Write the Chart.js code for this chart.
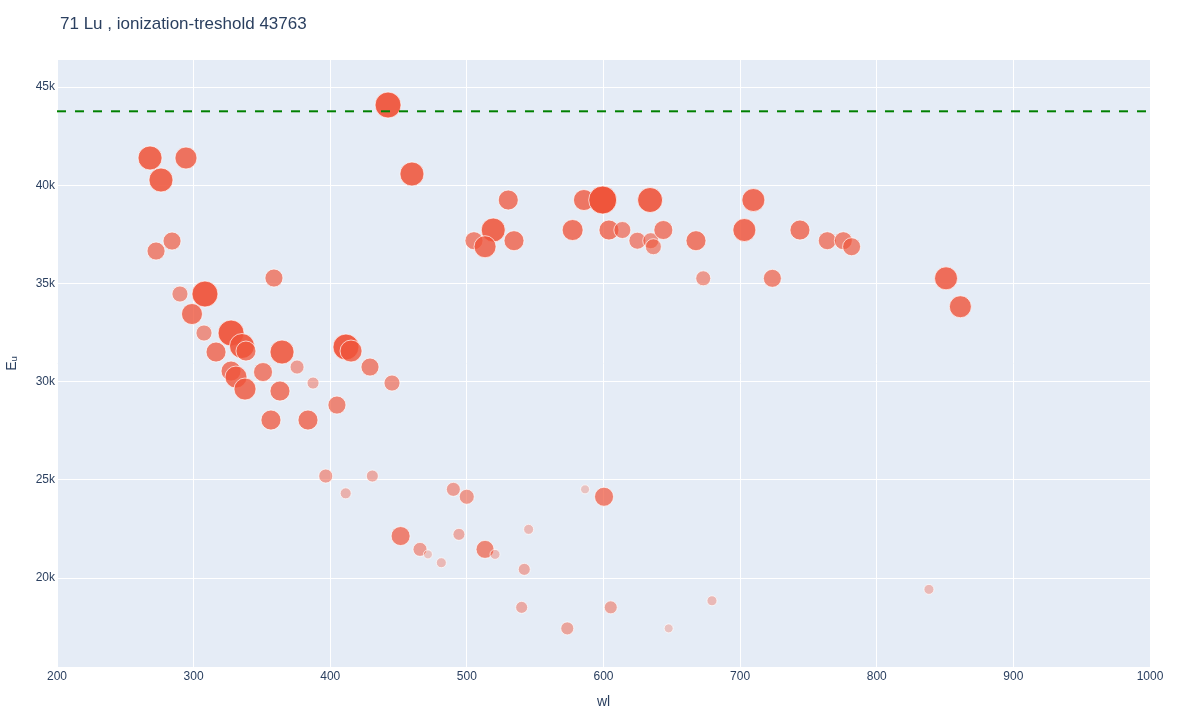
<!DOCTYPE html>
<html>
<head>
<meta charset="utf-8">
<title>71 Lu</title>
<script src="https://cdn.jsdelivr.net/npm/chart.js@4/dist/chart.umd.min.js"></script>
<style>
	html, body { margin: 0; padding: 0; background: #fff; }
	canvas { display: block; }
</style>
</head>
<body>
<canvas id="myChart" width="1200" height="720"></canvas>
<script>
"use strict";

/********/
/* data */
/********/
const titleText = "71 Lu , ionization-treshold 43763";
const threshold = 43763;

// wavelength of each line
const wl = [
	268.1, 276.1, 294.4, 272.5, 284.2, 442.3, 459.8, 358.8, 290.0, 308.3,
	298.8, 307.6, 327.4, 335.4, 338.3, 316.4, 364.7, 327.4, 331.0, 337.6,
	350.8, 363.2, 375.7, 387.4, 411.5, 415.2, 429.1, 445.2, 356.6, 383.7,
	404.9, 530.3, 519.3, 505.2, 513.3, 534.5, 577.4, 585.7, 599.4, 604.0,
	613.8, 624.8, 634.6, 636.5, 634.1, 643.8, 667.7, 673.0, 703.1, 709.7,
	723.6, 743.8, 763.8, 775.5, 781.6, 850.7, 861.2, 838.2, 396.7, 411.3,
	430.8, 490.1, 499.9, 586.5, 600.4, 451.5, 465.7, 471.5, 481.3, 494.2,
	513.3, 520.6, 545.2, 542.0, 540.1, 573.5, 605.3, 647.7, 679.4
];
// upper level energy of each line
const eu = [
	41385, 40264, 41385, 36649, 37158, 44083, 40570, 35274, 34460, 34460,
	33441, 32474, 32474, 31812, 31557, 31506, 31506, 30538, 30233, 29622,
	30487, 29520, 30742, 29927, 31761, 31557, 30742, 29927, 28044, 28044,
	28807, 39246, 37718, 37174, 36868, 37174, 37718, 39246, 39246, 37718,
	37718, 37174, 37174, 36868, 39246, 37718, 37174, 35259, 37718, 39246,
	35259, 37718, 37174, 37174, 36868, 35259, 33813, 19422, 25192, 24311,
	25192, 24515, 24138, 24515, 24138, 22137, 21459, 21204, 20779, 22223,
	21459, 21204, 22478, 20441, 18506, 17436, 18506, 17436, 18842
];
// relative strength (0..1) of each line
const strength = [
	0.80, 0.80, 0.70, 0.50, 0.50, 0.90, 0.80, 0.50, 0.40, 0.90,
	0.65, 0.40, 0.90, 0.85, 0.60, 0.60, 0.80, 0.60, 0.70, 0.70,
	0.55, 0.60, 0.30, 0.20, 0.90, 0.70, 0.50, 0.40, 0.60, 0.60,
	0.50, 0.60, 0.80, 0.50, 0.70, 0.60, 0.65, 0.65, 1.00, 0.60,
	0.45, 0.45, 0.40, 0.40, 0.85, 0.55, 0.60, 0.35, 0.75, 0.75,
	0.50, 0.60, 0.50, 0.50, 0.50, 0.75, 0.70, 0.10, 0.30, 0.15,
	0.20, 0.30, 0.35, 0.05, 0.55, 0.55, 0.30, 0.05, 0.10, 0.20,
	0.50, 0.10, 0.10, 0.20, 0.20, 0.25, 0.25, 0.05, 0.10
];

// tick labels
const xTicks = [200, 300, 400, 500, 600, 700, 800, 900, 1000];
const yTicks = [20000, 25000, 30000, 35000, 40000, 45000];

/***********/
/* methods */
/***********/
function bubbleData() {
	// pair up wavelength, energy and strength
	return wl.map((x, i) => ({ x: x, y: eu[i], r: 4 + 10 * strength[i] }));
}

function bubbleColors() {
	// weaker lines are paler
	return strength.map(s => "rgba(239, 85, 59, " + (0.2 + 0.8 * Math.pow(s, 0.75)).toFixed(2) + ")");
}

const plotBackground = {
	id: "plotBackground",
	beforeDraw(chart) {
		const a = chart.chartArea;
		const ctx = chart.ctx;
		ctx.save();
		ctx.fillStyle = "#E5ECF6";
		ctx.fillRect(a.left, a.top, a.right - a.left, a.bottom - a.top);
		ctx.restore();
	}
};

const plotTitle = {
	id: "plotTitle",
	afterDraw(chart) {
		const ctx = chart.ctx;
		ctx.save();
		ctx.font = "17px 'Liberation Sans', Arial, sans-serif";
		ctx.fillStyle = "#2a3f5f";
		ctx.textBaseline = "middle";
		ctx.fillText(titleText, 60, 24);
		ctx.restore();
	}
};

function buildChart() {
	const ctx = document.getElementById("myChart").getContext("2d");
	Chart.defaults.font.family = "'Liberation Sans', Arial, sans-serif";
	Chart.defaults.color = "#2a3f5f";

	new Chart(ctx, {
		type: "bubble",
		data: {
			datasets: [{
				label: "threshold",
				type: "line",
				data: [{ x: xTicks[0], y: threshold }, { x: xTicks[xTicks.length - 1], y: threshold }],
				borderColor: "#008000",
				borderWidth: 2,
				borderDash: [9, 9],
				pointRadius: 0,
				fill: false
			}, {
				label: "lines",
				data: bubbleData(),
				backgroundColor: bubbleColors(),
				borderColor: "#ffffff",
				borderWidth: 0.7
			}]
		},
		options: {
			responsive: false,
			animation: false,
			devicePixelRatio: 1,
			layout: { padding: { top: 60, right: 50, left: 0, bottom: 0 } },
			plugins: {
				legend: { display: false },
				tooltip: { enabled: false }
			},
			scales: {
				x: {
					type: "linear",
					min: 200,
					max: 1000,
					afterBuildTicks: scale => { scale.ticks = xTicks.map(v => ({ value: v })); },
					afterFit: scale => { scale.height = 53; },
					ticks: { font: { size: 12 }, padding: 2, maxRotation: 0, callback: v => String(v) },
					grid: { color: "#ffffff", lineWidth: 1, drawTicks: false },
					border: { display: false },
					title: { display: true, text: "wl", font: { size: 14 }, padding: { top: 0, bottom: 9 } }
				},
				y: {
					type: "linear",
					min: 15470,
					max: 46375,
					afterBuildTicks: scale => { scale.ticks = yTicks.map(v => ({ value: v })); },
					afterFit: scale => { scale.width = 57; },
					ticks: { font: { size: 12 }, padding: 2, callback: v => (v / 1000) + "k" },
					grid: { color: "#ffffff", lineWidth: 1, drawTicks: false },
					border: { display: false },
					title: { display: true, text: "Eᵤ", font: { size: 14 }, padding: { top: 4, bottom: 0 } }
				}
			}
		},
		plugins: [plotBackground, plotTitle]
	});
}

/********/
/* MAIN */
/********/
(function main() {
	buildChart();
})()
</script>
</body>
</html>
